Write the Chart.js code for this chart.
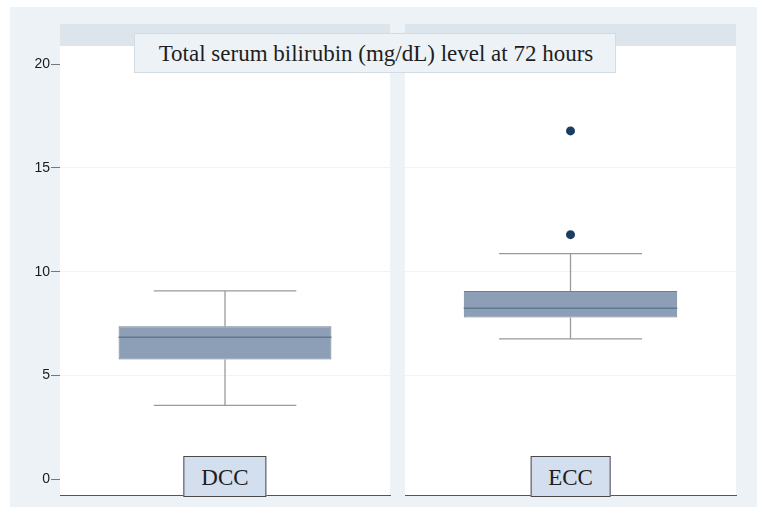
<!DOCTYPE html>
<html lang="en">
<head>
<meta charset="UTF-8">
<title>Total serum bilirubin at 72 hours</title>
<script src="https://cdn.jsdelivr.net/npm/chart.js@4"></script>
<style>
  html, body { margin: 0; padding: 0; background: #fff; }
  #wrap { position: relative; width: 766px; height: 514px; overflow: hidden; }
  .outer { position: absolute; left: 10px; top: 7px; width: 747px; height: 500px; background: #edf2f6; }
  .panel { position: absolute; top: 24px; height: 471px; background: #fff; }
  .strip { position: absolute; left: 0; top: 0; right: 0; height: 22px; background: #dce5ec; }
  canvas { position: absolute; left: 0; top: 0; }
  .title {
    position: absolute; left: 134px; top: 33px; width: 482px; height: 40px;
    box-sizing: border-box; background: #edf2f6; border: 1px solid #d3dbe3;
    font: 23px "Liberation Serif", "Times New Roman", serif; color: #1e1e1e;
    line-height: 39px; text-align: center; padding-left: 2px;
  }
  .cat {
    position: absolute; top: 456px; height: 41px; box-sizing: border-box;
    background: #d3deef; border: 1px solid #4a4a4a; padding: 0 17px;
    font: 23px "Liberation Serif", "Times New Roman", serif; color: #1e1e1e;
    line-height: 41px; transform: translateX(-50%);
  }
</style>
</head>
<body>
<div id="wrap">
  <div class="outer"></div>
  <div class="panel" style="left:60px;width:330px"><div class="strip"></div></div>
  <div class="panel" style="left:405px;width:331px"><div class="strip"></div></div>
  <canvas id="c0" width="766" height="514"></canvas>
  <canvas id="c1" width="766" height="514"></canvas>
  <div class="title">Total serum bilirubin (mg/dL) level at 72 hours</div>
</div>
<script>
// ---------------------------------------------------------------------------
// Data
// ---------------------------------------------------------------------------
const categories  = ['DCC', 'ECC'];
const q1          = [5.77, 7.79];
const median      = [6.84, 8.24];
const q3          = [7.37, 9.07];
const whiskerLow  = [3.56, 6.76];
const whiskerHigh = [9.07, 10.87];
const outliers    = [[], [16.78, 11.78]];
const yTicks      = [0, 5, 10, 15, 20];

const Y_MIN = -0.76, Y_MAX = 20.87;

// panel geometry: [left, right] of the plot area
const panels = [[60, 390], [405, 736]];

// whiskers under the box, median on top
const boxExtras = {
  id: 'boxExtras',
  beforeDatasetsDraw(chart) {
    const i = chart.options.plugins.boxExtras.index;
    const bar = chart.getDatasetMeta(0).data[0];
    const y = chart.scales.y;
    const ctx = chart.ctx;
    const cx = bar.x, cap = bar.width * 0.67;
    ctx.save();
    ctx.strokeStyle = '#9a9a9a';
    ctx.lineWidth = 1.3;
    ctx.beginPath();
    ctx.moveTo(cx, y.getPixelForValue(q3[i]));
    ctx.lineTo(cx, y.getPixelForValue(whiskerHigh[i]));
    ctx.moveTo(cx, y.getPixelForValue(q1[i]));
    ctx.lineTo(cx, y.getPixelForValue(whiskerLow[i]));
    for (const v of [whiskerHigh[i], whiskerLow[i]]) {
      const py = y.getPixelForValue(v);
      ctx.moveTo(cx - cap / 2, py);
      ctx.lineTo(cx + cap / 2, py);
    }
    ctx.stroke();
    ctx.restore();
  },
  afterDatasetsDraw(chart) {
    const i = chart.options.plugins.boxExtras.index;
    const bar = chart.getDatasetMeta(0).data[0];
    const py = chart.scales.y.getPixelForValue(median[i]);
    const ctx = chart.ctx;
    ctx.save();
    ctx.strokeStyle = '#5d7a90';
    ctx.lineWidth = 1.5;
    ctx.beginPath();
    ctx.moveTo(bar.x - bar.width / 2, py);
    ctx.lineTo(bar.x + bar.width / 2, py);
    ctx.stroke();
    ctx.restore();
  }
};

function makePanel(i) {
  const [left, right] = panels[i];
  const showAxis = i === 0;
  return new Chart(document.getElementById('c' + i), {
    type: 'bar',
    data: {
      labels: [categories[i]],
      datasets: [
        {
          data: [[q1[i], q3[i]]],
          backgroundColor: '#8c9fb7',
          borderColor: '#6f7f92',
          borderWidth: 1,
          borderSkipped: false,
          barPercentage: 0.645,
          categoryPercentage: 1,
        },
        {
          type: 'line',
          data: outliers[i].map(v => ({ x: categories[i], y: v })),
          showLine: false,
          pointRadius: 4.5,
          pointBackgroundColor: '#1b3d63',
          pointBorderColor: '#1b3d63',
          pointBorderWidth: 0,
        }
      ]
    },
    options: {
      responsive: false,
      animation: false,
      layout: { padding: { left: showAxis ? 10 : left, right: 766 - right, top: 46, bottom: 19 } },
      plugins: {
        legend: { display: false },
        tooltip: { enabled: false },
        boxExtras: { index: i }
      },
      scales: {
        x: {
          grid: { display: false },
          ticks: { display: false },
          border: { display: true, color: '#555', width: 1 },
          afterFit: s => { s.height = 0; }
        },
        y: {
          min: Y_MIN,
          max: Y_MAX,
          afterBuildTicks: s => { s.ticks = yTicks.map(v => ({ value: v })); },
          afterFit: s => { s.width = showAxis ? 50 : 0; },
          border: { display: false },
          grid: {
            color: c => (c.tick && (c.tick.value === 0 || c.tick.value === 20)) ? 'rgba(0,0,0,0)' : '#f1f3f5',
            tickColor: showAxis ? '#777' : 'rgba(0,0,0,0)',
            tickLength: showAxis ? 9 : 0,
            drawTicks: showAxis,
          },
          ticks: {
            display: showAxis,
            color: '#1a1a1a',
            padding: 1,
            font: { family: '"Liberation Sans", Arial, sans-serif', size: 14 },
          }
        }
      }
    },
    plugins: [boxExtras]
  });
}

const charts = categories.map((_, i) => makePanel(i));

// category label boxes, placed at each box's centre
const wrap = document.getElementById('wrap');
charts.forEach((ch, i) => {
  const d = document.createElement('div');
  d.className = 'cat';
  d.textContent = categories[i];
  d.style.left = ch.scales.x.getPixelForValue(0) + 'px';
  wrap.appendChild(d);
});
</script>
</body>
</html>
